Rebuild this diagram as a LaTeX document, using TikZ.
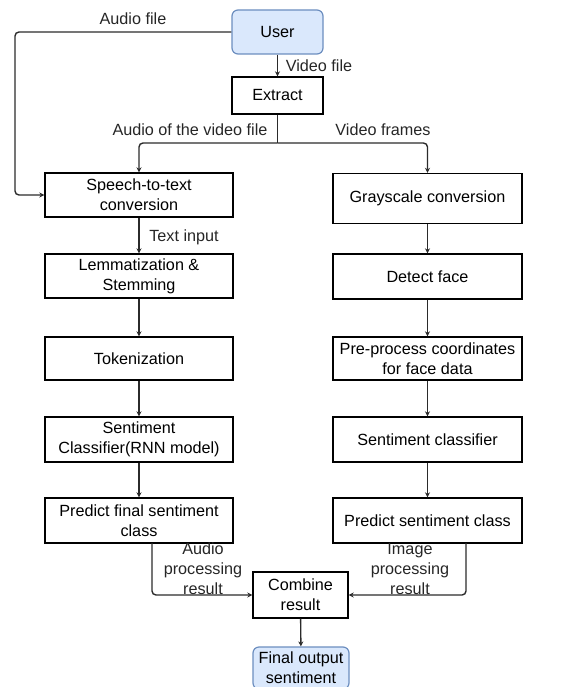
\documentclass[tikz,border=0pt]{standalone}
\usepackage{fontspec}
\setmainfont{Liberation Sans}
\usetikzlibrary{arrows.meta}
\definecolor{bluefill}{HTML}{DAE8FC}
\definecolor{blueline}{HTML}{6C8EBF}
\definecolor{linecol}{HTML}{2B2B2B}
\begin{document}
\begin{tikzpicture}[x=1pt,y=-1pt,
  font=\fontsize{16.2}{20}\selectfont,
  box/.style={draw=black,line width=1.4pt,fill=white,align=center,inner sep=1pt},
  ubox/.style={draw=blueline,line width=1.2pt,fill=bluefill,rounded corners=6pt,align=center,inner sep=1pt},
  conn/.style={draw=linecol,line width=1.4pt,rounded corners=4pt,-{Stealth[length=5pt,width=5pt]}},
  lab/.style={align=center,inner sep=0pt,text=black!85}]
\useasboundingbox (0,0) rectangle (569,687);
\clip (0,0) rectangle (569,687);
% nodes
\node[ubox,minimum width=91pt,minimum height=44pt] (user) at (277.5,32) {User};
\node[box,minimum width=91pt,minimum height=37pt] (extract) at (277.5,95.5) {Extract};
\node[box,minimum width=188pt,minimum height=44pt] (speech) at (139,195) {Speech-to-text\\conversion};
\node[box,minimum width=189pt,minimum height=50pt] (gray) at (427.5,198.5) {Grayscale conversion};
\node[box,minimum width=188pt,minimum height=44pt] (lemma) at (139,276) {Lemmatization \&\\Stemming};
\node[box,minimum width=189pt,minimum height=45pt] (detect) at (427.5,276.5) {Detect face};
\node[box,minimum width=188pt,minimum height=43pt] (token) at (139,358.5) {Tokenization};
\node[box,minimum width=189pt,minimum height=43pt] (prep) at (427.5,358.5) {Pre-process coordinates\\for face data};
\node[box,minimum width=188pt,minimum height=45pt] (sentl) at (139,439.5) {Sentiment\\Classifier(RNN model)};
\node[box,minimum width=189pt,minimum height=45pt] (sentr) at (427.5,439.5) {Sentiment classifier};
\node[box,minimum width=188pt,minimum height=45pt] (predl) at (139,520.5) {Predict final sentiment\\class};
\node[box,minimum width=189pt,minimum height=45pt] (predr) at (427.5,520.5) {Predict sentiment class};
\node[box,minimum width=95pt,minimum height=46pt] (comb) at (300.5,595) {Combine\\result};
\node[ubox,minimum width=96pt,minimum height=42pt] (final) at (301,668) {Final output\\sentiment};
% helper coordinates
\coordinate (split) at (277.5,143);
\coordinate (ul) at (15,32);
\coordinate (plb) at (152,543);
\coordinate (prb) at (466,543);
% connectors
\draw[conn] (user.west) -- (ul) |- (speech.west);
\draw[conn] (user.south) -- (extract.north);
\draw[draw=linecol,line width=1.4pt] (extract.south) -- (split);
\draw[conn] (split) -| (speech.north);
\draw[conn] (split) -| (gray.north);
\draw[conn] (speech) -- (lemma);
\draw[conn] (lemma) -- (token);
\draw[conn] (token) -- (sentl);
\draw[conn] (sentl) -- (predl);
\draw[conn] (gray) -- (detect);
\draw[conn] (detect) -- (prep);
\draw[conn] (prep) -- (sentr);
\draw[conn] (sentr) -- (predr);
\draw[conn] (plb) |- (comb.west);
\draw[conn] (prb) |- (comb.east);
\draw[conn] (comb) -- (final);
% labels
\node[lab] (laudio) at (133,19) {Audio file};
\node[lab] (lvideo) at (319,66) {Video file};
\node[lab] (laov) at (190,130) {Audio of the video file};
\node[lab] (lframes) at (383,130) {Video frames};
\node[lab] (ltext) at (184,237) {Text input};
\node[lab] (lapr) at (203,569) {Audio\\processing\\result};
\node[lab] (lipr) at (410,569) {Image\\processing\\result};
\end{tikzpicture}
\end{document}
